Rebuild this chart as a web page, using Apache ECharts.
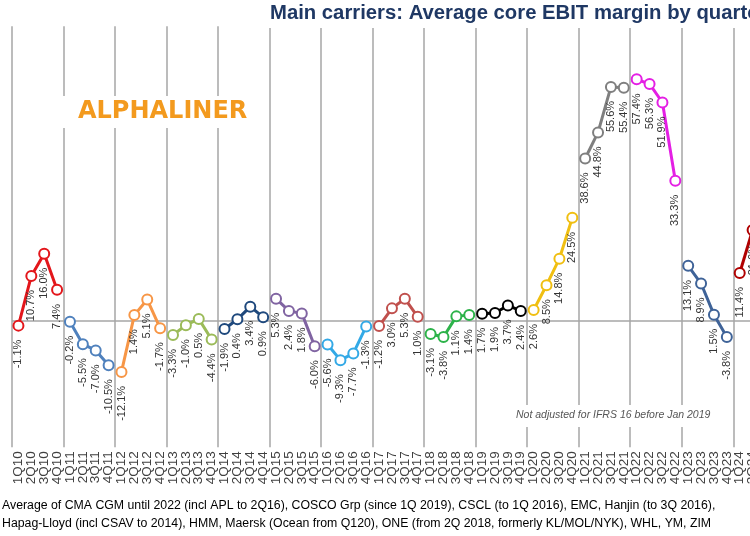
<!DOCTYPE html>
<html><head><meta charset="utf-8">
<script src="https://cdn.jsdelivr.net/npm/echarts@6/dist/echarts.min.js"></script>
<style>html,body{margin:0;padding:0;background:#fff}#c{width:750px;height:536px}</style>
</head><body><div id="c"></div>
<script>
const quarters = [];
for (let y = 10; y <= 24; y++) for (let q = 1; q <= 4; q++) quarters.push(q + 'Q' + y);

const y2010 = [-1.1, 10.7, 16.0, 7.4];
const y2011 = [-0.2, -5.5, -7.0, -10.5];
const y2012 = [-12.1, 1.4, 5.1, -1.7];
const y2013 = [-3.3, -1.0, 0.5, -4.4];
const y2014 = [-1.9, 0.4, 3.4, 0.9];
const y2015 = [5.3, 2.4, 1.8, -6.0];
const y2016 = [-5.6, -9.3, -7.7, -1.3];
const y2017 = [-1.2, 3.0, 5.3, 1.0];
const y2018 = [-3.1, -3.8, 1.1, 1.4];
const y2019 = [1.7, 1.9, 3.7, 2.4];
const y2020 = [2.6, 8.5, 14.8, 24.5];
const y2021 = [38.6, 44.8, 55.6, 55.4];
const y2022 = [57.4, 56.3, 51.9, 33.3];
const y2023 = [13.1, 8.9, 1.5, -3.8];
const y2024 = [11.4, 21.6];

const yearData = [y2010, y2011, y2012, y2013, y2014, y2015, y2016, y2017, y2018, y2019, y2020, y2021, y2022, y2023, y2024];
const yearColors = ['#e3161b', '#4f81bd', '#f79646', '#9bbb59', '#1f497d', '#8064a2', '#33a9e6', '#c0504d', '#2db34a', '#000000', '#f0bf12', '#7f7f7f', '#e41fe4', '#3f6398', '#b00000'];

const series = yearData.map((vals, i) => {
  const data = quarters.map(() => null);
  vals.forEach((v, j) => { data[i * 4 + j] = v; });
  return {
    type: 'line', data: data, connectNulls: false, z: 3,
    symbol: 'emptyCircle', symbolSize: 10, showAllSymbol: true,
    lineStyle: { color: yearColors[i], width: 3 },
    itemStyle: { color: yearColors[i], borderColor: yearColors[i], borderWidth: 3 },
    label: {
      show: true, position: 'bottom', rotate: 90, align: 'right', verticalAlign: 'middle',
      distance: 8, fontSize: 11, color: '#333', fontFamily: 'Liberation Sans',
      formatter: p => p.value == null ? '' : p.value.toFixed(1) + '%'
    },
    emphasis: { disabled: true }
  };
});
series[0].markLine = {
  silent: true, symbol: 'none', label: { show: false },
  lineStyle: { color: '#a6a6a6', width: 1.5, type: 'solid' },
  data: [{ yAxis: 0 }], z: 1
};

const chart = echarts.init(document.getElementById('c'), null, { renderer: 'canvas' });
chart.setOption({
  animation: false,
  backgroundColor: '#fff',
  grid: { left: 12, top: 26.3, width: 772.8, height: 421, containLabel: false, outerBoundsMode: 'none' },
  xAxis: {
    type: 'category', data: quarters, boundaryGap: true,
    axisLine: { show: false, onZero: false }, axisTick: { show: false },
    axisLabel: { interval: 0, rotate: 90, fontSize: 13.5, color: '#404040', margin: 4, fontFamily: 'Liberation Sans' },
    splitLine: { show: true, interval: 3, lineStyle: { color: '#a6a6a6', width: 1.5 } }
  },
  yAxis: {
    type: 'value', min: -30, max: 70, interval: 10,
    axisLine: { show: false }, axisTick: { show: false }, axisLabel: { show: false },
    splitLine: { show: false }
  },
  series: series,
  graphic: [
    { type: 'rect', left: 262, top: 0, shape: { width: 490, height: 28 }, style: { fill: '#fff' }, z: 10 },
    { type: 'text', left: 270, top: 3, z: 11, style: { text: 'Main carriers: Average core EBIT margin by quarter', font: 'bold 20.3px "Liberation Sans"', fill: '#1f3864' } },
    { type: 'rect', left: 56, top: 96, shape: { width: 204, height: 32 }, style: { fill: '#fff' }, z: 10 },
    { type: 'text', left: 78, top: 100, z: 11, style: { text: 'ALPHALINER', font: 'bold 24px "DejaVu Sans"', fill: '#f39a1e' } },
    { type: 'rect', left: 512, top: 405, shape: { width: 204, height: 22 }, style: { fill: '#fff' }, z: 10 },
    { type: 'text', left: 516, top: 410, z: 11, style: { text: 'Not adjusted for IFRS 16 before Jan 2019', font: 'italic 10.5px "Liberation Sans"', fill: '#555' } },
    { type: 'text', left: 2, top: 500, z: 11, style: { text: 'Average of CMA CGM until 2022 (incl APL to 2Q16), COSCO Grp (since 1Q 2019), CSCL (to 1Q 2016), EMC, Hanjin (to 3Q 2016),', font: '12.3px "Liberation Sans"', fill: '#000' } },
    { type: 'text', left: 2, top: 518, z: 11, style: { text: 'Hapag-Lloyd (incl CSAV to 2014), HMM, Maersk (Ocean from Q120), ONE (from 2Q 2018, formerly KL/MOL/NYK), WHL, YM, ZIM', font: '12.3px "Liberation Sans"', fill: '#000' } }
  ]
});
</script></body></html>
